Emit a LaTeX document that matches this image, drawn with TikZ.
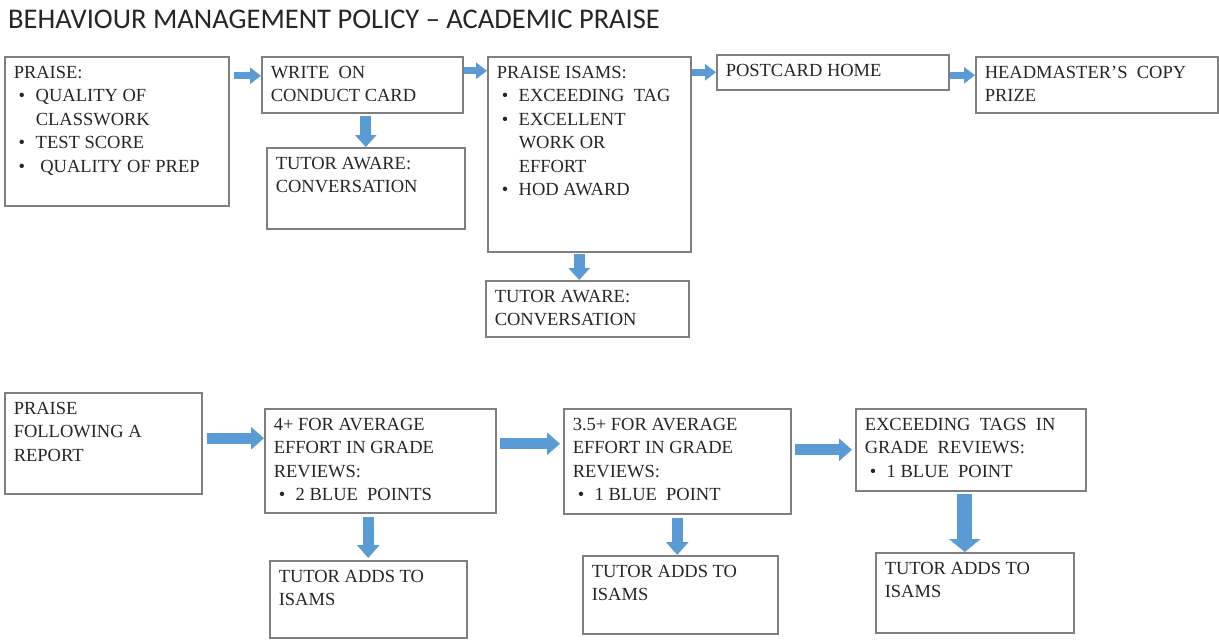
\documentclass[tikz,border=0pt]{standalone}
\usepackage{fontspec}
\setmainfont{Liberation Serif}
\newfontfamily\titlefont{Carlito}
\usepackage{xcolor}
\usetikzlibrary{arrows.meta}
\usetikzlibrary{calc}

\definecolor{arrowblue}{HTML}{5B9BD5}
\definecolor{boxline}{HTML}{7F7F7F}

% text block of a box: total width, total height, text
\newcommand{\boxtext}[3]{\parbox[t][\dimexpr#2pt-18pt\relax][t]{\dimexpr#1pt-18pt\relax}{\raggedright\fontsize{18.5}{23.5}\selectfont #3}}
\newcommand{\bul}{\par\hangindent=22pt\hangafter=1\noindent\hbox to 22pt{\hskip5pt\textbullet\hfil}\ignorespaces}

\begin{document}
\begin{tikzpicture}[x=1pt,y=-1pt,
    box/.style={draw=boxline, line width=1.5pt, anchor=north west, inner xsep=9pt, inner ysep=9pt, text=black!85},
    flow/.style={draw=arrowblue, line width=7pt, -{Triangle[length=11pt,width=16pt]}},
    flowdown/.style={draw=arrowblue, line width=11pt, -{Triangle[length=12pt,width=21pt]}},
    flowwide/.style={draw=arrowblue, line width=11pt, -{Triangle[length=13pt,width=22pt]}},
    flowfat/.style={draw=arrowblue, line width=15pt, -{Triangle[length=13pt,width=31pt]}}]
    \useasboundingbox (0,0) rectangle (1219,640);

    \node[anchor=north west, inner sep=0pt, text=black!85, font=\titlefont\fontsize{28.5}{32}\selectfont] (title) at (8,10) {BEHAVIOUR MANAGEMENT POLICY – ACADEMIC PRAISE};

    % top row
    \node[box] (praise) at (4,56) {\boxtext{224}{149}{PRAISE: \bul QUALITY OF\newline CLASSWORK \bul TEST SCORE \bul \ QUALITY OF PREP}};
    \node[box] (conduct) at (261,56) {\boxtext{201}{56}{WRITE\ \ ON\newline CONDUCT CARD}};
    \node[box] (tutorA) at (266,147) {\boxtext{198}{81}{TUTOR AWARE:\newline CONVERSATION}};
    \node[box] (isams) at (487,56) {\boxtext{203}{195}{PRAISE ISAMS: \bul EXCEEDING\ \ TAG \bul EXCELLENT\newline WORK OR\newline EFFORT \bul HOD AWARD}};
    \node[box] (tutorB) at (485,280) {\boxtext{203}{56}{TUTOR AWARE:\newline CONVERSATION}};
    \node[box] (postcard) at (716,54) {\boxtext{232}{35}{POSTCARD HOME}};
    \node[box] (prize) at (975,56) {\boxtext{242}{56}{HEADMASTER’S\ \ COPY\newline PRIZE}};

    % bottom row
    \node[box] (report) at (4,392) {\boxtext{197}{101}{PRAISE\newline FOLLOWING A\newline REPORT}};
    \node[box] (four) at (264,408) {\boxtext{231}{104}{4+ FOR AVERAGE\newline EFFORT IN GRADE\newline REVIEWS: \bul 2 BLUE\ \ POINTS}};
    \node[box] (threefive) at (563,408) {\boxtext{227}{105}{3.5+ FOR AVERAGE\newline EFFORT IN GRADE\newline REVIEWS: \bul 1 BLUE\ \ POINT}};
    \node[box] (exceed) at (855,408) {\boxtext{230}{82}{EXCEEDING\ \ TAGS\ \ IN\newline GRADE\ \ REVIEWS: \bul 1 BLUE\ \ POINT}};
    \node[box] (addsA) at (269,560) {\boxtext{197}{77}{TUTOR ADDS TO\newline ISAMS}};
    \node[box] (addsB) at (582,555) {\boxtext{195}{78}{TUTOR ADDS TO\newline ISAMS}};
    \node[box] (addsC) at (875,552) {\boxtext{198}{80}{TUTOR ADDS TO\newline ISAMS}};

    % arrows, top row
    \draw[flow, shorten <=4pt] ($(praise.east |- conduct.west)+(0,-9)$) -- ($(conduct.west)+(0,-9)$);
    \draw[flow] ($(conduct.east)+(0,-14)$) -- ($(isams.west |- conduct.east)+(0,-14)$);
    \draw[flow] (isams.east |- postcard.west) -- (postcard.west);
    \draw[flow] ($(postcard.east)+(0,3)$) -- ($(prize.west |- postcard.east)+(0,3)$);
    \draw[flowdown, shorten <=2pt] (tutorA.north |- conduct.south) -- (tutorA.north);
    \draw[flowdown, shorten <=1pt] ($(isams.south)+(-10,0)$) -- ($(isams.south |- tutorB.north)+(-10,0)$);

    % arrows, bottom row
    \draw[flowwide, shorten <=4pt] ($(report.east)+(0,-5)$) -- ($(report.east -| four.west)+(0,-5)$);
    \draw[flowwide, shorten <=3pt, shorten >=3pt] ($(four.east)+(0,-17)$) -- ($(four.east -| threefive.west)+(0,-17)$);
    \draw[flowwide, shorten <=3pt, shorten >=3pt] (threefive.east |- exceed.west) -- (exceed.west);
    \draw[flowwide, shorten <=3pt, shorten >=2pt] (addsA.north |- four.south) -- (addsA.north);
    \draw[flowwide, shorten <=3pt] (threefive.south) -- (threefive.south |- addsB.north);
    \draw[flowfat, shorten <=2pt] ($(exceed.south)+(-6,0)$) -- ($(exceed.south |- addsC.north)+(-6,0)$);
\end{tikzpicture}
\end{document}
